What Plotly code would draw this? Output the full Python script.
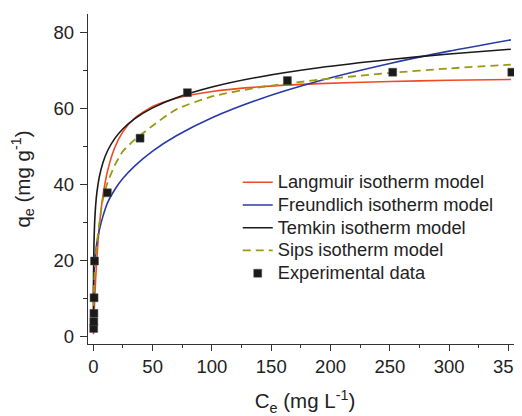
import plotly.graph_objects as go

# Experimental data
ce_exp = [0.3, 0.4, 0.5, 0.6, 1.0, 11.8, 39.4, 79.3, 163.6, 252.4, 352.8]
qe_exp = [2.0, 3.8, 6.0, 10.1, 19.8, 37.8, 52.2, 64.2, 67.4, 69.6, 69.6]

# Model curves
ce_model = [0.05, 0.2, 0.5, 1, 2, 3, 5, 8, 12, 18, 25, 35, 50, 70, 100, 140, 190, 250, 300, 352]
q_langmuir = [0.49, 1.91, 4.59, 8.61, 15.31, 20.68, 28.73, 36.78, 43.57, 49.68, 53.92, 57.52,
              60.55, 62.76, 64.52, 65.75, 66.59, 67.16, 67.47, 67.70]
q_freundlich = [9.13, 12.78, 15.95, 18.87, 22.32, 24.62, 27.87, 31.5, 35.2, 38.6, 41.6, 44.9,
                48.8, 52.83, 57.59, 62.49, 67.29, 71.91, 75.16, 78.13]
q_temkin = [5.42, 16.41, 23.68, 29.17, 34.67, 37.88, 41.93, 45.66, 48.88, 52.09, 54.70, 57.37,
            60.20, 62.86, 65.69, 68.36, 70.78, 72.96, 74.41, 75.67]
q_sips = [4.5, 8.0, 12.0, 16.0, 21.0, 24.5, 29.5, 36.0, 40.5, 45.0, 48.8, 51.8,
          55.5, 59.8, 63.2, 65.6, 67.6, 69.4, 70.6, 71.6]

names = ["Langmuir isotherm model", "Freundlich isotherm model", "Temkin isotherm model",
         "Sips isotherm model", "Experimental data"]


def lg(txt):
    return '<span style="font-size:18.3px">' + txt + '</span>'


fig = go.Figure()
fig.add_trace(go.Scatter(x=ce_model, y=q_langmuir, mode="lines", name=lg(names[0]),
                         line=dict(color="#f04a25", width=1.6, shape="spline", smoothing=0.6)))
fig.add_trace(go.Scatter(x=ce_model, y=q_freundlich, mode="lines", name=lg(names[1]),
                         line=dict(color="#2a3aa6", width=1.6, shape="spline", smoothing=0.6)))
fig.add_trace(go.Scatter(x=ce_model, y=q_temkin, mode="lines", name=lg(names[2]),
                         line=dict(color="#1a1a1a", width=1.6, shape="spline", smoothing=0.6)))
fig.add_trace(go.Scatter(x=ce_model, y=q_sips, mode="lines", name=lg(names[3]),
                         line=dict(color="#9a9a12", width=1.8, dash="8px,5px", shape="spline", smoothing=0.6)))
fig.add_trace(go.Scatter(x=ce_exp, y=qe_exp, mode="markers", name=lg(names[4]),
                         marker=dict(symbol="square", size=8, color="#1a1a1a",
                                     line=dict(color="#555", width=0.5))))

axis_col = "#333333"
fig.update_layout(
    width=514, height=408,
    margin=dict(l=80, r=0, t=6, b=72, autoexpand=False),
    plot_bgcolor="white", paper_bgcolor="white",
    font=dict(family="Liberation Sans, Arial, sans-serif", size=18.5, color="#222222"),
    legend=dict(x=0.345, y=0.54, xanchor="left", yanchor="top",
                bgcolor="rgba(0,0,0,0)", font=dict(size=15.2), tracegroupgap=0),
    xaxis=dict(range=[-4.5, 361.4], showline=True, linecolor=axis_col, linewidth=1.3,
               ticks="outside", ticklen=6, tickwidth=1.2, tickcolor=axis_col,
               tick0=0, dtick=50, showgrid=False, zeroline=False, automargin=False,
               ticklabeloverflow="allow",
               minor=dict(dtick=25, ticks="outside", ticklen=3, tickcolor=axis_col, tickwidth=1.2),
               title=dict(text="C<sub>e</sub> (mg L<sup>-1</sup>)", font=dict(size=20.5), standoff=17)),
    xaxis2=dict(range=[-4.5, 361.4], overlaying="x", side="top", anchor="y",
                showline=True, linecolor=axis_col, linewidth=1.3, automargin=False,
                ticks="inside", ticklen=4, tickwidth=1.2, tickcolor=axis_col,
                tick0=0, dtick=25, showticklabels=False, showgrid=False, zeroline=False),
    yaxis=dict(range=[-2.1, 84.96], showline=True, linecolor=axis_col, linewidth=1.3,
               ticks="outside", ticklen=7, tickwidth=1.2, tickcolor=axis_col,
               tick0=0, dtick=20, showgrid=False, zeroline=False, automargin=False,
               ticklabelstandoff=2,
               minor=dict(dtick=10, ticks="outside", ticklen=4, tickcolor=axis_col, tickwidth=1.2),
               title=dict(text="q<sub>e</sub> (mg g<sup>-1</sup>)", font=dict(size=20.5), standoff=19)),
)

fig.write_html("out.html")
